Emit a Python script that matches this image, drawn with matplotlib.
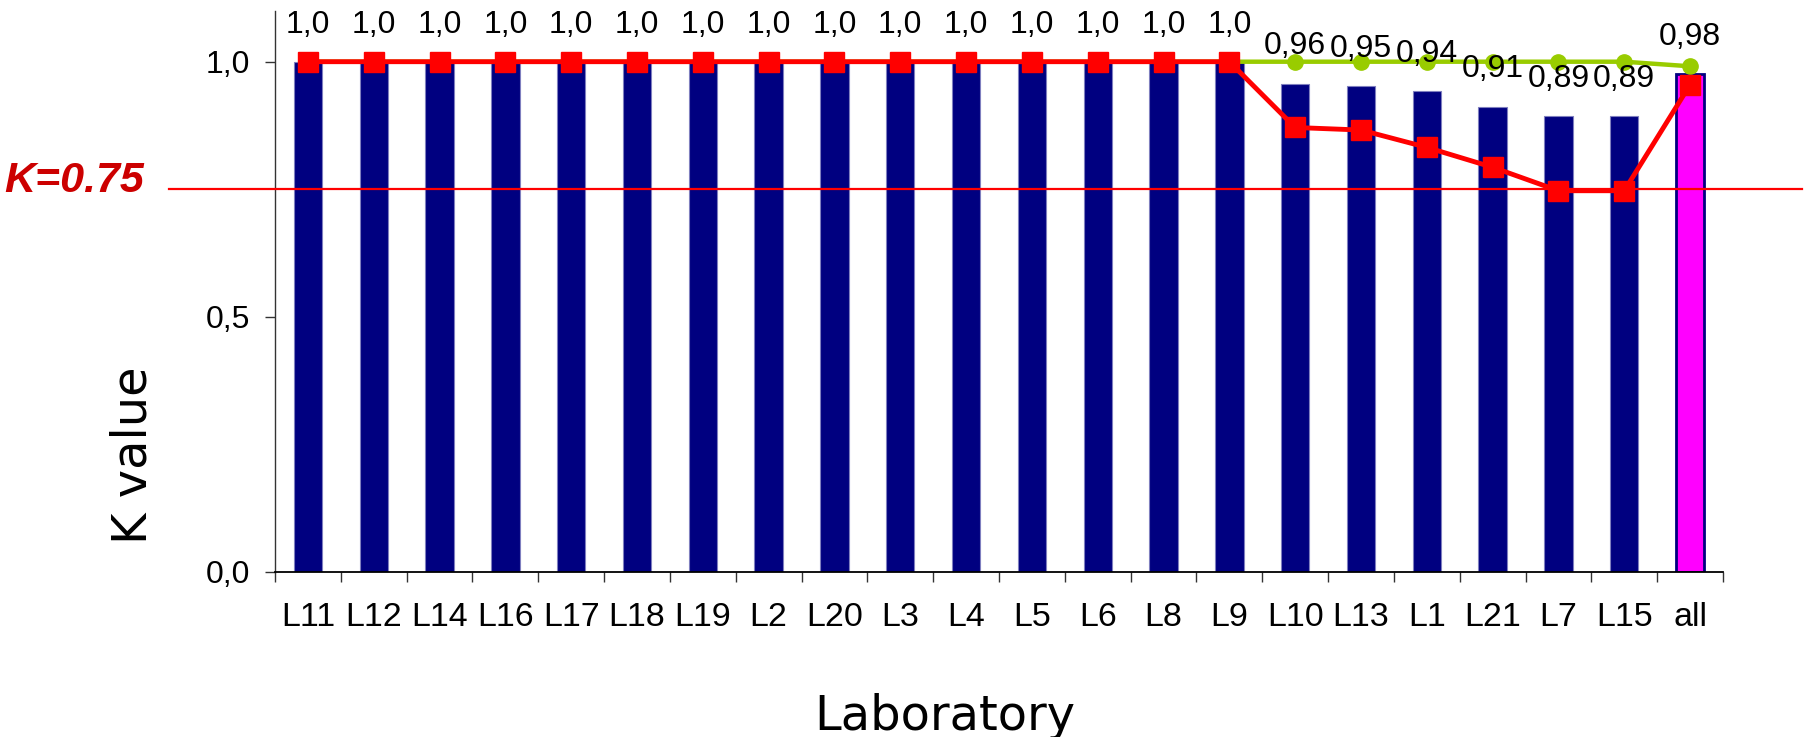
import matplotlib
matplotlib.use("Agg")
import matplotlib.pyplot as plt
from matplotlib.ticker import FixedLocator

categories = ["L11", "L12", "L14", "L16", "L17", "L18", "L19", "L2", "L20", "L3", "L4",
              "L5", "L6", "L8", "L9", "L10", "L13", "L1", "L21", "L7", "L15", "all"]
bar_values = [1.0] * 15 + [0.957, 0.952, 0.943, 0.912, 0.894, 0.894, 0.976]
bar_labels = ["1,0"] * 15 + ["0,96", "0,95", "0,94", "0,91", "0,89", "0,89", "0,98"]
green_values = [1.0] * 21 + [0.991]
red_values = [1.0] * 15 + [0.871, 0.866, 0.832, 0.793, 0.747, 0.747, 0.955]
threshold = 0.75
y_ticks = [0.0, 0.5, 1.0]
y_tick_labels = ["0,0", "0,5", "1,0"]

fig = plt.figure(figsize=(18.16, 7.37), dpi=100)
ax = fig.add_axes([275 / 1816, 1 - 571.7 / 737, 1448 / 1816, 561 / 737])

x = list(range(len(categories)))
colors = ["#000080"] * (len(categories) - 1) + ["#FF00FF"]
edges = ["#7f7fbf"] * (len(categories) - 1) + ["#000080"]
lws = [0.8] * (len(categories) - 1) + [2.0]
ax.bar(x, bar_values, width=0.43, color=colors, edgecolor=edges, linewidth=lws, zorder=2)

ax.axhline(threshold, xmin=(169 - 275) / 1448, xmax=(1802 - 275) / 1448,
           color="#FF0000", lw=1.6, clip_on=False, zorder=3)

ax.plot(x, green_values, color="#99CC00", lw=3.2, marker="o", markersize=11,
        zorder=4, clip_on=False)
ax.plot(x, red_values, color="#FF0000", lw=3.5, marker="s", markersize=15,
        zorder=5, clip_on=False)

for xi, v, lab in zip(x, bar_values, bar_labels):
    ax.annotate(lab, (xi, v), xytext=(0, 21), textcoords="offset points",
                ha="center", va="baseline", fontsize=23,
                family=["Liberation Sans", "DejaVu Sans"], zorder=6)

ax.set_xlim(-0.5, len(categories) - 0.5)
ax.set_ylim(0, 1.1)
ax.set_xticks(x)
ax.set_xticklabels(categories, fontsize=24.5,
                   family=["Liberation Sans Narrow", "Liberation Sans", "DejaVu Sans"])
ax.xaxis.set_minor_locator(FixedLocator([i - 0.5 for i in range(len(categories) + 1)]))
ax.tick_params(axis="x", which="major", length=0, pad=22)
ax.tick_params(axis="x", which="minor", length=7.5, width=1, color="#333333")
ax.set_yticks(y_ticks)
ax.set_yticklabels(y_tick_labels, fontsize=23, family=["Liberation Sans", "DejaVu Sans"])
ax.tick_params(axis="y", length=7.5, width=1, pad=10.5, color="#333333")

for s in ["top", "right"]:
    ax.spines[s].set_visible(False)
ax.spines["left"].set_color("#333333")
ax.spines["left"].set_linewidth(1)
ax.spines["bottom"].set_color("black")
ax.spines["bottom"].set_linewidth(1.3)

fig.text(945 / 1816, 1 - 730 / 737, "Laboratory", ha="center", va="baseline",
         fontsize=34.5, family="DejaVu Sans")
fig.text(133 / 1816, 1 - 455 / 737, "K value", ha="center", va="center",
         rotation=90, fontsize=34.5, family="DejaVu Sans")
fig.text(4 / 1816, 1 - 181 / 737, "K=0.75", ha="left", va="center",
         fontsize=31, fontweight="bold", fontstyle="italic", color="#CC0000",
         family=["Liberation Sans", "DejaVu Sans"])

fig.savefig("out.png", dpi=100)
